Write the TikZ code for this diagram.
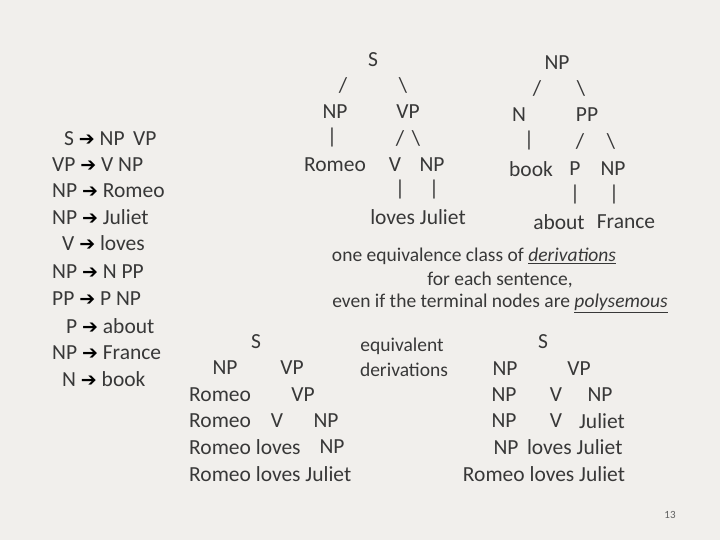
\documentclass[tikz,border=0pt]{standalone}
\usepackage{fontspec}
\setmainfont{Carlito}
\newfontfamily\symf{DejaVu Sans}
\definecolor{bg}{HTML}{F1EFEC}
\definecolor{tx}{HTML}{383838}
\newcommand{\arr}{{\symf\bfseries\fontsize{19}{19}\selectfont\color{black}➔}}
\begin{document}
\begin{tikzpicture}[x=1pt,y=-1pt,
  t/.style={text=tx,font=\fontsize{21.5}{24}\selectfont,inner sep=0pt},
  tl/.style={t,anchor=west},
  s/.style={text=tx,font=\fontsize{19.5}{22}\selectfont,inner sep=0pt}]
\fill[bg] (0,0) rectangle (720,540);
\useasboundingbox (0,0) rectangle (720,540);
% grammar 1
\node[tl] (g1) at (64,139) {S \arr{} NP\, VP};
\node[tl] (g2) at (52,165) {VP \arr{} V NP};
\node[tl] (g3) at (52,191) {NP \arr{} Romeo};
\node[tl] (g4) at (52,217) {NP \arr{} Juliet};
\node[tl] (g5) at (62,243) {V \arr{} loves};
% grammar 2
\node[tl] (h1) at (52,272) {NP \arr{} N PP};
\node[tl] (h2) at (52,299) {PP \arr{} P NP};
\node[tl] (h3) at (66,326) {P \arr{} about};
\node[tl] (h4) at (52,353) {NP \arr{} France};
\node[tl] (h5) at (62,379) {N \arr{} book};
% tree 1
\node[t] (a1) at (373,60) {S};
\node[t] (a2) at (343,85) {/};
\node[t] (a3) at (403,85) {\textbackslash};
\node[t] (a4) at (335,112) {NP};
\node[t] (a5) at (408,112) {VP};
\node[t] (a6) at (332,138) {|};
\node[t] (a7) at (400,138) {/};
\node[t] (a8) at (416,138) {\textbackslash};
\node[t] (a9) at (335,165) {Romeo};
\node[t] (a10) at (395,165) {V};
\node[t] (a11) at (432,165) {NP};
\node[t] (a12) at (400,190) {|};
\node[t] (a13) at (434,190) {|};
\node[t] (a14) at (418,217) {loves Juliet};
% tree 2
\node[t] (b1) at (557,63) {NP};
\node[t] (b2) at (537,88) {/};
\node[t] (b3) at (581,88) {\textbackslash};
\node[t] (b4) at (519,115) {N};
\node[t] (b5) at (587,115) {PP};
\node[t] (b6) at (529,141) {|};
\node[t] (b7) at (580,141) {/};
\node[t] (b8) at (611,141) {\textbackslash};
\node[t] (b9) at (531,169) {book};
\node[t] (b10) at (575,169) {P};
\node[t] (b11) at (613,169) {NP};
\node[t] (b12) at (575,195) {|};
\node[t] (b13) at (614,195) {|};
\node[t] (b14) at (559,222) {about};
\node[t] (b15) at (626,222) {France};
% middle text
\node[s] (m1) at (474,256) {one equivalence class of \underline{\textit{derivations}}};
\node[s] (m2) at (500,280) {for each sentence,};
\node[s] (m3) at (500,303) {even if the terminal nodes are \underline{\textit{polysemous}}};
\node[s] (e1) at (402,346) {equivalent};
\node[s] (e2) at (404,370) {derivations};
% left derivation
\node[t] (c1) at (256,342) {S};
\node[t] (c2) at (225,368) {NP};
\node[t] (c3) at (292,368) {VP};
\node[tl] (c4) at (189,395) {Romeo};
\node[t] (c5) at (303,395) {VP};
\node[tl] (c6) at (189,421) {Romeo};
\node[t] (c7) at (277,421) {V};
\node[t] (c8) at (326,421) {NP};
\node[tl] (c9) at (189,447) {Romeo loves};
\node[t] (c10) at (332,447) {NP};
\node[tl] (c11) at (189,474) {Romeo loves Juliet};
% right derivation
\node[t] (d1) at (543,342) {S};
\node[t] (d2) at (505,369) {NP};
\node[t] (d3) at (579,369) {VP};
\node[t] (d4) at (504,395) {NP};
\node[t] (d5) at (556,395) {V};
\node[t] (d6) at (600,395) {NP};
\node[t] (d7) at (504,421) {NP};
\node[t] (d8) at (556,421) {V};
\node[t] (d9) at (602,421) {Juliet};
\node[t] (d10) at (558,447) {NP\, loves Juliet};
\node[t] (d11) at (544,474) {Romeo loves Juliet};
\node[text=tx!80,font=\fontsize{11}{12}\selectfont,inner sep=0pt] (pg) at (670,515) {13};
\end{tikzpicture}
\end{document}
